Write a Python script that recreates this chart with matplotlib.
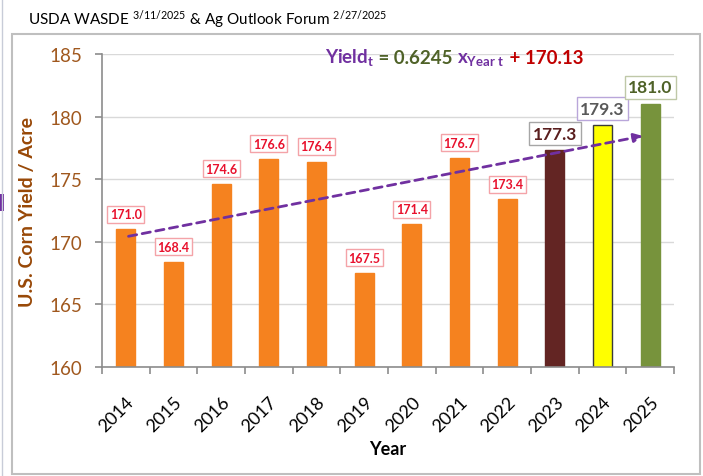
import matplotlib
matplotlib.use("Agg")
import matplotlib.pyplot as plt
from matplotlib.patches import Rectangle
from matplotlib.offsetbox import TextArea, HPacker, AnchoredOffsetbox

plt.rcParams["font.family"] = ["Lato", "DejaVu Sans"]
plt.rcParams["mathtext.fontset"] = "custom"
plt.rcParams["mathtext.rm"] = "Lato"
plt.rcParams["mathtext.bf"] = "Lato:bold"
plt.rcParams["mathtext.it"] = "Lato:italic"

# data
years = ["2014", "2015", "2016", "2017", "2018", "2019",
         "2020", "2021", "2022", "2023", "2024", "2025"]
yields = [171.0, 168.4, 174.6, 176.6, 176.4, 167.5,
          171.4, 176.7, 173.4, 177.3, 179.3, 181.0]
bar_colors = ["#F5821F"] * 9 + ["#632523", "#FFFF00", "#77933C"]
bar_edges = ["#F5821F"] * 9 + ["#632523", "#3A3A3A", "#77933C"]
label_colors = ["#E8112D"] * 9 + ["#5A1E1E", "#595959", "#4F6228"]
label_edges = ["#F4A3A8"] * 9 + ["#A6A6A6", "#B9A6DA", "#BFC8A8"]
label_sizes = [9] * 9 + [12.5, 12.5, 12.5]
trend_x = [0, 10.9]
trend_y = [170.4, 178.5]

fig = plt.figure(figsize=(7.03, 4.77), dpi=100)
ax = fig.add_axes([0.145, 0.2285, 0.814, 0.656])

xs = list(range(len(years)))
ax.bar(xs, yields, width=0.4, color=bar_colors, edgecolor=bar_edges,
       linewidth=1, zorder=2)

for x, v, c, ec, s in zip(xs, yields, label_colors, label_edges, label_sizes):
    off = 11 if s < 10 else 12
    ax.annotate(f"{v:.1f}", (x, v), xytext=(0, off), textcoords="offset points",
                ha="center", va="center", fontsize=s, fontweight="bold", color=c,
                bbox=dict(boxstyle="square,pad=0.2", fc="white", ec=ec, lw=1),
                zorder=5)

ax.annotate("", xy=(trend_x[1], trend_y[1]), xytext=(trend_x[0], trend_y[0]),
            arrowprops=dict(arrowstyle="-|>", linestyle=(0, (3, 2)),
                            color="#7030A0", lw=2, mutation_scale=13),
            zorder=4)

ax.set_ylim(160, 185)
ax.set_xlim(-0.5, 11.5)
ax.set_yticks(range(160, 186, 5))
ax.yaxis.grid(True, color="#D9D9D9", lw=1)
ax.set_axisbelow(True)
for sp in ["top", "right"]:
    ax.spines[sp].set_visible(False)
for sp in ["left", "bottom"]:
    ax.spines[sp].set_color("#8C8C8C")
    ax.spines[sp].set_linewidth(1.2)

ax.tick_params(axis="y", colors="#8C8C8C", labelcolor="#A0581E",
               labelsize=13.5, length=5, width=1.2, pad=9)
ax.set_xticks(xs)
ax.set_xticklabels(years, rotation=45, ha="right", rotation_mode="anchor",
                   fontsize=13)
ax.tick_params(axis="x", length=0, pad=19)
ax.set_xticks([x - 0.5 for x in range(len(years) + 1)], minor=True)
ax.tick_params(axis="x", which="minor", length=5, width=1.2, colors="#8C8C8C")

ax.set_ylabel("U.S. Corn Yield / Acre", fontsize=14, fontweight="bold",
              color="#984807", labelpad=10)
ax.set_xlabel("Year", fontsize=13, fontweight="bold", labelpad=4)

# title
fig.text(28 / 703, 1 - 20 / 477,
         r"USDA WASDE $^{\mathrm{3/11/2025}}$ & Ag Outlook Forum $^{\mathrm{2/27/2025}}$",
         fontsize=11, va="center", ha="left")

# equation
parts = [(r"Yield$_{\mathbf{t}}$", "#7030A0"),
         (" = 0.6245 ", "#4F6228"),
         (r"x$_{\mathbf{Year\ t}}$", "#7030A0"),
         (" + 170.13", "#C00000")]
areas = [TextArea(t, textprops=dict(color=c, fontsize=13.5, fontweight="bold"))
         for t, c in parts]
box = HPacker(children=areas, align="baseline", pad=0, sep=0)
anch = AnchoredOffsetbox(loc="center left", child=box, pad=0, borderpad=0,
                         frameon=False, bbox_to_anchor=(325 / 703, 1 - 58 / 477),
                         bbox_transform=fig.transFigure)
fig.add_artist(anch)

# frame
fig.add_artist(Rectangle((12 / 703, 2 / 477), 688 / 703, 440 / 477,
                         transform=fig.transFigure, fill=False,
                         ec="#BFBFBF", lw=1.5))
fig.add_artist(plt.Line2D([2 / 703, 2 / 703], [0, 1], transform=fig.transFigure,
                          color="#C8CCD8", lw=1))
fig.add_artist(Rectangle((0, 1 - 212 / 477), 4 / 703, 17 / 477,
                         transform=fig.transFigure, color="#7030A0", lw=0))

fig.savefig("out.png", dpi=100)
